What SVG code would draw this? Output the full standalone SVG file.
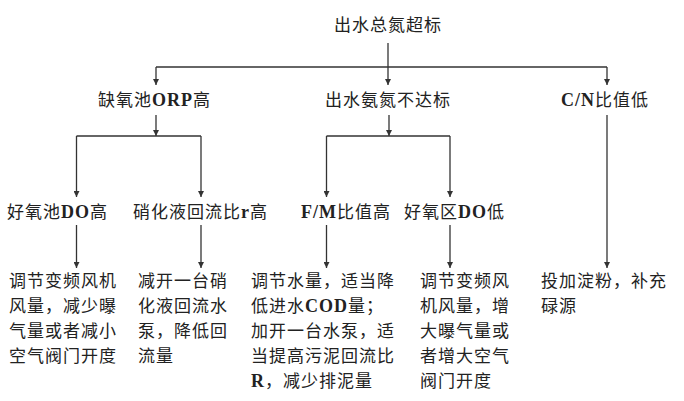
<svg xmlns="http://www.w3.org/2000/svg" width="684" height="401" viewBox="0 0 684 401">
<style>
text{font-family:"Noto Sans CJK SC","Noto Sans",sans-serif;font-size:17px;letter-spacing:1px;fill:#222}
.l{font-family:"Liberation Serif","Noto Sans CJK SC",serif;font-weight:bold;font-size:18px}
.c{fill:none;stroke:#333;stroke-width:1.3}
</style>
<defs>
<marker id="ah" viewBox="0 0 8 8" refX="8" refY="4" markerWidth="6" markerHeight="6" markerUnits="userSpaceOnUse" orient="auto">
<path d="M0,0 L8,4 L0,8 z" fill="#333"/>
</marker>
</defs>
<rect width="684" height="401" fill="#fff"/>
<g id="connectors" class="c">
<path d="M388 43 V85" marker-end="url(#ah)"/>
<path d="M156 67 H607"/>
<path d="M156 67 V85" marker-end="url(#ah)"/>
<path d="M607 67 V85" marker-end="url(#ah)"/>
<path d="M156 115 V136" marker-end="url(#ah)"/>
<path d="M76.5 136 H201"/>
<path d="M76.5 136 V197" marker-end="url(#ah)"/>
<path d="M201 136 V197" marker-end="url(#ah)"/>
<path d="M389 115 V136" marker-end="url(#ah)"/>
<path d="M326.5 136 H450"/>
<path d="M326.5 136 V197" marker-end="url(#ah)"/>
<path d="M450 136 V197" marker-end="url(#ah)"/>
<path d="M76.5 225 V268" marker-end="url(#ah)"/>
<path d="M201 225 V268" marker-end="url(#ah)"/>
<path d="M326.5 225 V268" marker-end="url(#ah)"/>
<path d="M450 225 V268" marker-end="url(#ah)"/>
<path d="M607 115 V268" marker-end="url(#ah)"/>
</g>
<g id="n-root"><text x="334" y="31">出水总氮超标</text></g>
<g id="n-orp"><text x="98" y="106">缺氧池<tspan class="l">ORP</tspan>高</text></g>
<g id="n-nh"><text x="325" y="106">出水氨氮不达标</text></g>
<g id="n-cn"><text x="561" y="106"><tspan class="l">C/N</tspan>比值低</text></g>
<g id="n-do-high"><text x="7" y="218">好氧池<tspan class="l">DO</tspan>高</text></g>
<g id="n-r-high"><text x="133" y="218">硝化液回流比<tspan class="l">r</tspan>高</text></g>
<g id="n-fm-high"><text x="301" y="218"><tspan class="l">F/M</tspan>比值高</text></g>
<g id="n-do-low"><text x="404" y="218">好氧区<tspan class="l">DO</tspan>低</text></g>
<g id="a-do-high">
<text x="9" y="287">调节变频风机</text>
<text x="9" y="312">风量，减少曝</text>
<text x="9" y="337">气量或者减小</text>
<text x="9" y="362">空气阀门开度</text>
</g>
<g id="a-r-high">
<text x="138" y="287">减开一台硝</text>
<text x="138" y="312">化液回流水</text>
<text x="138" y="337">泵，降低回</text>
<text x="138" y="362">流量</text>
</g>
<g id="a-fm-high">
<text x="251" y="287">调节水量，适当降</text>
<text x="251" y="312">低进水<tspan class="l">COD</tspan>量；</text>
<text x="251" y="337">加开一台水泵，适</text>
<text x="251" y="362">当提高污泥回流比</text>
<text x="251" y="387"><tspan class="l">R</tspan>，减少排泥量</text>
</g>
<g id="a-do-low">
<text x="420" y="287">调节变频风</text>
<text x="420" y="312">机风量，增</text>
<text x="420" y="337">大曝气量或</text>
<text x="420" y="362">者增大空气</text>
<text x="420" y="387">阀门开度</text>
</g>
<g id="a-cn">
<text x="541" y="287">投加淀粉，补充</text>
<text x="541" y="312">碌源</text>
</g>
</svg>
